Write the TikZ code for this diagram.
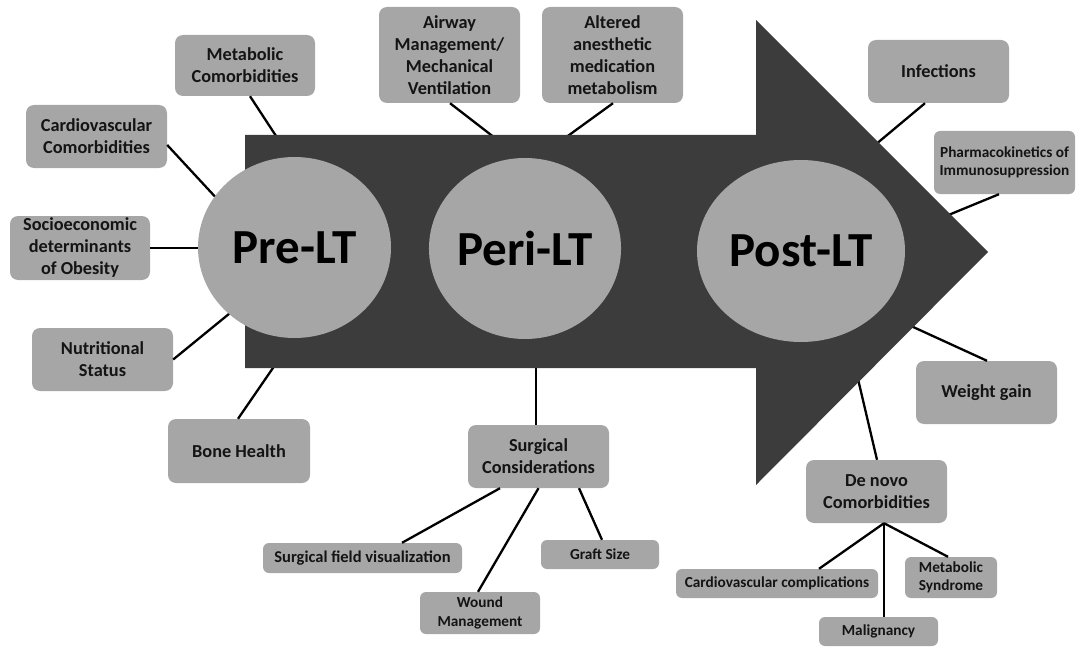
\documentclass[tikz,border=0pt]{standalone}
\usepackage{fontspec}
\setmainfont{Carlito}
\usetikzlibrary{shapes.geometric}
\definecolor{arrowgray}{HTML}{3C3C3C}
\definecolor{boxgray}{HTML}{A6A6A6}
\definecolor{txt}{HTML}{141414}
\begin{document}
\begin{tikzpicture}[x=1pt,y=-1pt,
 box/.style={fill=boxgray, rounded corners=8pt, inner sep=0pt, align=center, text=txt,
   font=\bfseries\fontsize{18.3}{22}\selectfont},
 sbox/.style={box, rounded corners=6pt, font=\bfseries\fontsize{15.3}{18.5}\selectfont},
 phase/.style={ellipse, fill=boxgray, inner sep=0pt, text=black,
   font=\bfseries\fontsize{49}{52}\selectfont},
 link/.style={line width=2.3pt, black}]
\useasboundingbox (0,0) rectangle (1076,650);
% boxes
\node[box, minimum width=140pt, minimum height=61pt] (mc) at (245,65.5) {Metabolic\\Comorbidities};
\node[box, minimum width=141pt, minimum height=63pt] (cc) at (96.5,136.5) {Cardiovascular\\Comorbidities};
\node[box, minimum width=140pt, minimum height=64pt] (se) at (80,248) {Socioeconomic\\determinants\\of Obesity};
\node[box, minimum width=141pt, minimum height=63pt] (ns) at (102.5,359.5) {Nutritional\\Status};
\node[box, minimum width=142pt, minimum height=64pt] (bh) at (239,451) {Bone Health};
\node[box, minimum width=141pt, minimum height=96pt] (aw) at (449.5,55) {Airway\\Management/\\Mechanical\\Ventilation};
\node[box, minimum width=141pt, minimum height=96pt] (am) at (612.5,55) {Altered\\anesthetic\\medication\\metabolism};
\node[box, minimum width=141pt, minimum height=63pt] (inf) at (938.5,71.5) {Infections};
\node[sbox, minimum width=141pt, minimum height=63pt] (pk) at (1004.5,162.5) {Pharmacokinetics of\\Immunosuppression};
\node[box, minimum width=141pt, minimum height=63pt] (wg) at (986.5,392.5) {Weight gain};
\node[box, minimum width=141pt, minimum height=63pt] (dn) at (876.5,491.5) {De novo\\Comorbidities};
\node[box, minimum width=141pt, minimum height=63pt] (sc) at (538.5,456.5) {Surgical\\Considerations};
\node[sbox, minimum width=199pt, minimum height=30pt, font=\bfseries\fontsize{16.5}{19}\selectfont] (sf) at (362.5,558) {Surgical field visualization};
\node[sbox, minimum width=120pt, minimum height=42pt] (wm) at (480,613) {Wound\\Management};
\node[sbox, minimum width=118pt, minimum height=29pt] (gs) at (600,554.5) {Graft Size};
\node[sbox, minimum width=202pt, minimum height=29pt] (cv) at (777,583.5) {Cardiovascular complications};
\node[sbox, minimum width=119pt, minimum height=29pt] (ml) at (878.5,631.5) {Malignancy};
\node[sbox, minimum width=92pt, minimum height=41pt] (ms) at (951,577.5) {Metabolic\\Syndrome};
% free ends on the arrow
\coordinate (pmc) at (278,139);
\coordinate (pcc) at (220,202);
\coordinate (pse) at (204,248);
\coordinate (pns) at (235,309);
\coordinate (pbh) at (275,365);
\coordinate (paw) at (495,138);
\coordinate (pam) at (565,138);
\coordinate (pinf) at (875,145);
\coordinate (ppk) at (946,216);
\coordinate (pwg) at (911,326);
\coordinate (pdn) at (858,379);
\coordinate (psc) at (536,364);
% links
\draw[link] ([xshift=5pt]mc.south) -- (pmc);
\draw[link] ([yshift=-8.5pt]cc.east) -- (pcc);
\draw[link] (se.east) -- (pse);
\draw[link] (ns.east) -- (pns);
\draw[link] ([xshift=-1pt]bh.north) -- (pbh);
\draw[link] ([xshift=0.5pt]aw.south) -- (paw);
\draw[link] ([xshift=0.5pt]am.south) -- (pam);
\draw[link] ([xshift=-13.5pt]inf.south) -- (pinf);
\draw[link] ([xshift=-5.5pt]pk.south) -- (ppk);
\draw[link] ([xshift=0.5pt]wg.north) -- (pwg);
\draw[link] ([xshift=0.5pt]dn.north) -- (pdn);
\draw[link] ([xshift=-2.5pt]sc.north) -- (psc);
\draw[link] ([xshift=-38.5pt]sc.south) -- ([xshift=39.5pt]sf.north);
\draw[link] (sc.south) -- ([xshift=-2pt]wm.north);
\draw[link] ([xshift=40.5pt]sc.south) -- ([xshift=2pt]gs.north);
\draw[link] ([xshift=7.5pt]dn.south) -- ([xshift=42pt]cv.north);
\draw[link] ([xshift=7.5pt]dn.south) -- ([xshift=5.5pt]ml.north);
\draw[link] ([xshift=7.5pt]dn.south) -- ([xshift=-3pt]ms.north);
% big arrow
\fill[arrowgray] (245,135) -- (756,135) -- (756,20) -- (988,252) -- (756,485) -- (756,368) -- (245,368) -- cycle;
% phases
\node[phase, minimum width=193pt, minimum height=181pt] (pre) at (294.5,247.5) {Pre-LT};
\node[phase, minimum width=186pt, minimum height=181pt] (peri) at (525,248.5) {Peri-LT};
\node[phase, minimum width=208pt, minimum height=182pt] (post) at (801,251) {Post-LT};
\end{tikzpicture}
\end{document}
